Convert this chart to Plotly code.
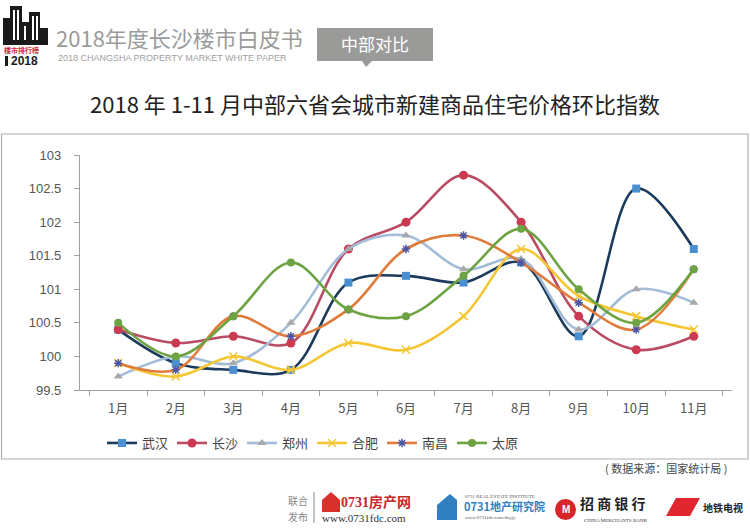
import plotly.graph_objects as go

months = ["1月", "2月", "3月", "4月", "5月", "6月", "7月", "8月", "9月", "10月", "11月"]
wuhan     = [100.4, 99.9, 99.8, 99.8, 101.1, 101.2, 101.1, 101.4, 100.3, 102.5, 101.6]
changsha  = [100.4, 100.2, 100.3, 100.2, 101.6, 102.0, 102.7, 102.0, 100.6, 100.1, 100.3]
zhengzhou = [99.7, 100.0, 99.9, 100.5, 101.6, 101.8, 101.3, 101.45, 100.4, 101.0, 100.8]
hefei     = [99.9, 99.7, 100.0, 99.8, 100.2, 100.1, 100.6, 101.6, 100.9, 100.6, 100.4]
nanchang  = [99.9, 99.8, 100.6, 100.3, 100.7, 101.6, 101.8, 101.4, 100.8, 100.4, 101.3]
taiyuan   = [100.5, 100.0, 100.6, 101.4, 100.7, 100.6, 101.2, 101.9, 101.0, 100.5, 101.3]
city_names = ["武汉", "长沙", "郑州", "合肥", "南昌", "太原"]
y_ticks = [99.5, 100, 100.5, 101, 101.5, 102, 102.5, 103]
y_tick_text = ["99.5", "100", "100.5", "101", "101.5", "102", "102.5", "103"]

W, H = 750, 530
def px(x): return x / W
def py(y): return 1 - y / H

CJK = "Noto Sans CJK SC, Liberation Sans, sans-serif"
NUM = "Liberation Sans, Noto Sans CJK SC, sans-serif"

styles = [
    dict(line="#1b3a5c", mcolor="#4a8fd0", symbol="square", size=8, lw=0),
    dict(line="#b94b63", mcolor="#cc3a52", symbol="circle", size=9, lw=0),
    dict(line="#a3bcd8", mcolor="#a8a8a8", symbol="triangle-up", size=8, lw=0),
    dict(line="#f5c633", mcolor="#f5c633", symbol="x-thin-open", size=8, lw=1.5),
    dict(line="#e07c3a", mcolor="#4b56a6", symbol="asterisk-open", size=7, lw=1.5),
    dict(line="#6da342", mcolor="#6da342", symbol="circle", size=8, lw=0),
]
series = [wuhan, changsha, zhengzhou, hefei, nanchang, taiyuan]

fig = go.Figure()
for name, vals, st in zip(city_names, series, styles):
    if st["lw"]:
        marker = dict(symbol=st["symbol"], size=st["size"], color=st["mcolor"],
                      line=dict(color=st["mcolor"], width=st["lw"]))
    else:
        marker = dict(symbol=st["symbol"], size=st["size"], color=st["mcolor"],
                      line=dict(width=0))
    fig.add_trace(go.Scatter(
        x=months, y=vals, name=name, mode="lines+markers",
        line=dict(color=st["line"], width=2.6, shape="spline", smoothing=1.0),
        marker=marker,
    ))

fig.update_layout(
    width=W, height=H,
    margin=dict(l=0, r=0, t=0, b=0, autoexpand=False),
    paper_bgcolor="white", plot_bgcolor="white",
    font=dict(family=CJK, color="#555555"),
    showlegend=True,
    legend=dict(orientation="h", x=px(102), xanchor="left", y=py(443), yanchor="middle",
                font=dict(family=CJK, size=13, color="#444444"),
                itemwidth=30, entrywidth=25, entrywidthmode="pixels",
                bgcolor="rgba(0,0,0,0)", tracegroupgap=0),
    xaxis=dict(domain=[px(80), px(732)], type="category", showgrid=False, automargin=False,
               showline=True, linecolor="#a0a0a0", linewidth=1.2,
               ticks="outside", tickson="boundaries", ticklen=5, tickcolor="#a0a0a0",
               ticklabelstandoff=6,
               tickfont=dict(family=CJK, size=13, color="#555555"), zeroline=False),
    yaxis=dict(domain=[py(390), py(155)], range=[99.5, 103], showgrid=False, automargin=False,
               tickvals=y_ticks, ticktext=y_tick_text,
               showline=True, linecolor="#a0a0a0", linewidth=1.2,
               ticks="outside", ticklen=5, tickcolor="#a0a0a0",
               ticklabelstandoff=10,
               tickfont=dict(family=NUM, size=13, color="#555555"), zeroline=False),
)

shapes = []
# chart frame
shapes.append(dict(type="rect", xref="paper", yref="paper", x0=px(1.5), x1=px(748), y0=py(459), y1=py(134),
                   line=dict(color="#b0b0b0", width=1.2), fillcolor="rgba(0,0,0,0)", layer="below"))
# header grey tag
shapes.append(dict(type="rect", xref="paper", yref="paper", x0=px(317), x1=px(433), y0=py(61), y1=py(28),
                   line=dict(width=0), fillcolor="#9a9a98"))
shapes.append(dict(type="path", xref="paper", yref="paper",
                   path=f"M {px(362)},{py(61)} L {px(366)},{py(67)} L {px(372)},{py(61)} Z",
                   line=dict(width=0), fillcolor="#9a9a98"))
# logo buildings
for (x0, x1, y0) in [(3, 11, 18), (10, 22, 6), (21, 30, 22), (29, 40, 12), (39, 48, 28)]:
    shapes.append(dict(type="rect", xref="paper", yref="paper", x0=px(x0), x1=px(x1), y0=py(45), y1=py(y0),
                       line=dict(width=0), fillcolor="#1a1a1a"))
for (x0, x1, y0, y1) in [(13, 15, 10, 40), (17, 19, 10, 40), (32, 34, 16, 40), (36, 38, 16, 40), (24, 26, 26, 40)]:
    shapes.append(dict(type="rect", xref="paper", yref="paper", x0=px(x0), x1=px(x1), y0=py(y1), y1=py(y0),
                       line=dict(width=0), fillcolor="#ffffff"))
shapes.append(dict(type="rect", xref="paper", yref="paper", x0=px(5), x1=px(8), y0=py(66), y1=py(56),
                   line=dict(width=0), fillcolor="#1a1a1a"))
# footer divider
shapes.append(dict(type="line", xref="paper", yref="paper", x0=px(314), x1=px(314), y0=py(523), y1=py(492),
                   line=dict(color="#888888", width=1)))
# footer icons
shapes.append(dict(type="path", xref="paper", yref="paper",
                   path=f"M {px(322)},{py(512)} L {px(322)},{py(500)} L {px(331)},{py(492)} L {px(340)},{py(500)} L {px(340)},{py(512)} Z",
                   line=dict(width=0), fillcolor="#d9302c"))
shapes.append(dict(type="path", xref="paper", yref="paper",
                   path=f"M {px(437)},{py(520)} L {px(437)},{py(505)} L {px(450)},{py(494)} L {px(457)},{py(500)} L {px(457)},{py(520)} Z",
                   line=dict(width=0), fillcolor="#2f7fc1"))
shapes.append(dict(type="circle", xref="paper", yref="paper", x0=px(555), x1=px(576), y0=py(520), y1=py(499),
                   line=dict(width=0), fillcolor="#d7262b"))
shapes.append(dict(type="path", xref="paper", yref="paper",
                   path=f"M {px(666)},{py(516)} L {px(676)},{py(498)} L {px(700)},{py(498)} L {px(690)},{py(516)} Z",
                   line=dict(width=0), fillcolor="#e0262e"))
fig.update_layout(shapes=shapes)

ann = []
def T(x, y, text, size, color, family=CJK, xanchor="left", bold=False):
    if bold:
        text = f"<b>{text}</b>"
    ann.append(dict(xref="paper", yref="paper", x=px(x), y=py(y), text=text, showarrow=False,
                    xanchor=xanchor, yanchor="middle", borderpad=0,
                    font=dict(family=family, size=size, color=color)))

T(375, 103, "2018 年 1-11 月中部六省会城市新建商品住宅价格环比指数", 22, "#222222", xanchor="center")
T(55, 37, "2018年度长沙楼市白皮书", 22, "#9b9b9b")
T(57, 58, "2018 CHANGSHA PROPERTY MARKET WHITE PAPER", 9, "#a0a0a0", family=NUM)
T(375, 44, "中部对比", 17, "#ffffff", xanchor="center")
T(3, 50, "楼市排行榜", 7, "#d3232b", bold=True)
T(10, 61, "2018", 12, "#1a1a1a", family=NUM, bold=True)
T(728, 468, "( 数据来源：国家统计局 )", 11, "#444444", xanchor="right")
T(298, 500, "联合", 10, "#888888", xanchor="center")
T(298, 516, "发布", 10, "#888888", xanchor="center")
T(340, 502, "0731房产网", 14, "#c8272b", family="Liberation Serif, Noto Sans CJK SC", bold=True)
T(321, 518, "www.0731fdc.com", 11, "#333333", family="Liberation Serif")
T(464, 496, "0731 REAL ESTATE INSTITUTE", 5, "#555555", family="Liberation Serif")
T(463, 506, "0731地产研究院", 11, "#2f7fc1", bold=True)
T(464, 517, "www.0731fdc.com/dcyjy", 5, "#555555", family="Liberation Serif")
T(579, 503, "招 商 银 行", 14, "#222222", bold=True)
T(583, 520, "CHINA MERCHANTS BANK", 5, "#333333", family="Liberation Serif")
T(702, 507, "地铁电视", 10, "#222222", bold=True)
T(565.5, 509, "M", 10, "#ffffff", family=NUM, xanchor="center", bold=True)
fig.update_layout(annotations=ann)

fig.write_html("out.html", config={"displayModeBar": False},
               post_script="document.body.style.margin='0px';document.body.style.overflow='hidden';")
